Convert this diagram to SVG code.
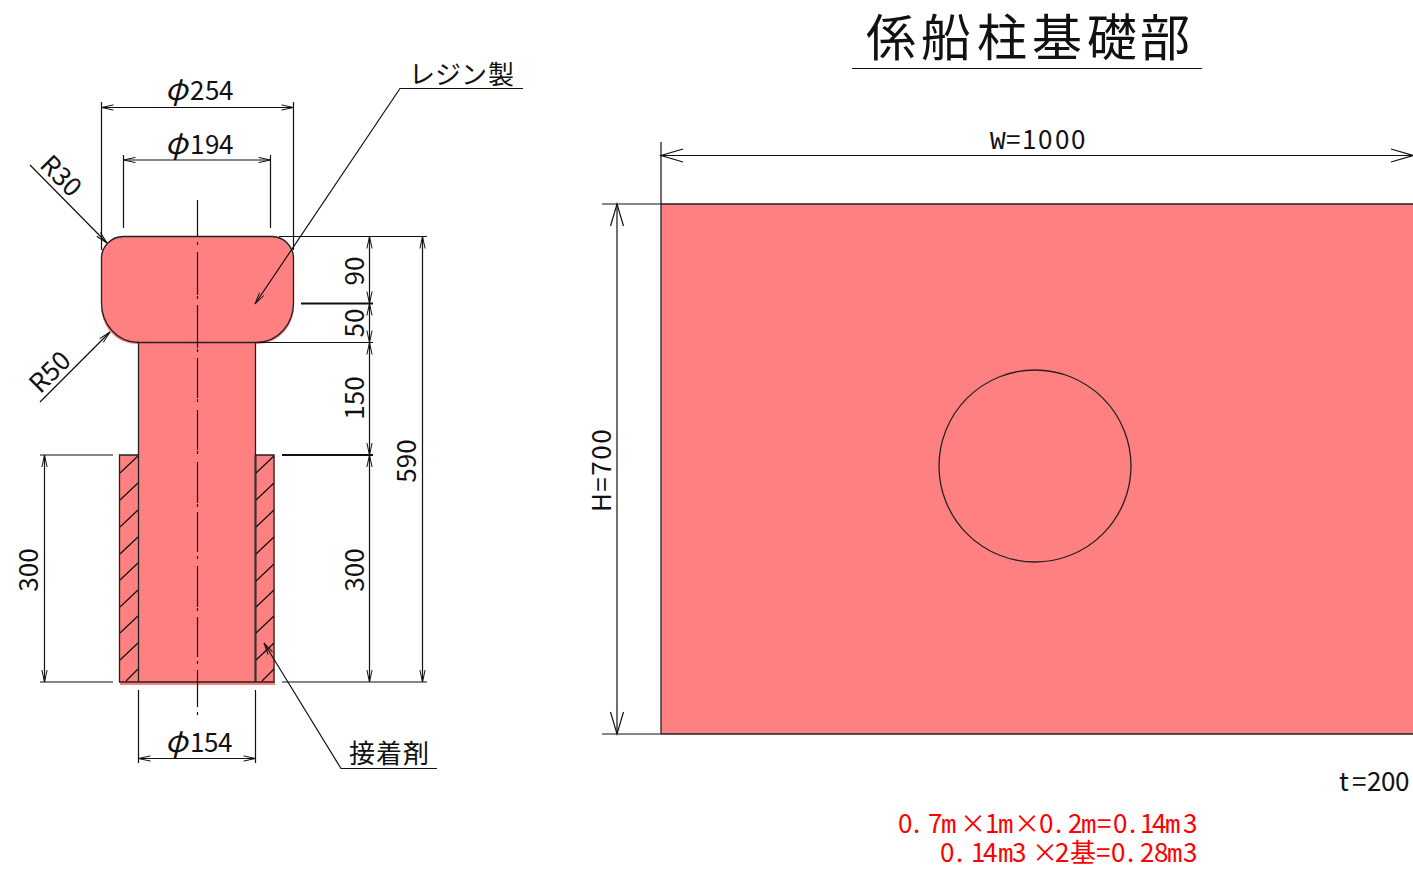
<svg xmlns="http://www.w3.org/2000/svg" width="1413" height="870" viewBox="0 0 1413 870">
<style>
text{font-family:"Noto Sans CJK JP","Liberation Sans",sans-serif;font-size:26px;fill:#111}
.m{font-family:"Liberation Mono",monospace}
.p{font-size:30px;font-style:italic}
.red{fill:#f00}
.fill{fill:#ff8080;stroke:none}
.ol{fill:none;stroke:#222;stroke-width:1.3}
.l{fill:none;stroke:#111;stroke-width:1.2}
.s{marker-start:url(#a);marker-end:url(#a)}
.b{marker-start:url(#A);marker-end:url(#A)}
.e{marker-end:url(#a)}
.hatch{fill:none;stroke:#111;stroke-width:1.2}
</style>
<defs>
<marker id="a" markerUnits="userSpaceOnUse" markerWidth="16" markerHeight="10" refX="14" refY="5" orient="auto-start-reverse"><path d="M2 2.400L14 5L2 7.600" fill="none" stroke="#111" stroke-width="1"/></marker>
<marker id="A" markerUnits="userSpaceOnUse" markerWidth="26" markerHeight="18" refX="23" refY="9" orient="auto-start-reverse"><path d="M1 2.500L23 9L1 15.500" fill="none" stroke="#111" stroke-width="1.200"/></marker>
</defs>
<g id="post">
<path class="fill" d="M123 236H272A22 22 0 0 1 294 258V305C294 325 280 344 256 344H138C114 344 101 325 101 305V258A22 22 0 0 1 123 236Z"/>
<rect class="fill" x="138.500" y="343" width="117" height="340"/>
<rect class="fill" x="119.500" y="455" width="155" height="227"/>
<rect class="fill" x="120" y="682" width="155" height="3"/>
<path class="ol" d="M101.500 303V258A22 22 0 0 1 123.500 236.500H272A22 22 0 0 1 293.500 258V303C293.500 323 279 342.500 256 342.500H139C116 342.500 101.500 323 101.500 303Z"/>
<path class="ol" d="M138.500 343V682M255.500 343V682"/>
<path d="M255.500 455V682" stroke="#333" stroke-width="2" fill="none"/>
<path class="ol" d="M138.500 455H119.500V682H274V455H255.500M119.500 682H274"/>
<path class="hatch" d="M120 473L138 456M120 500L138 483M120 527L138 510M120 554L138 537M120 580L138 563M120 607L138 590M120 633L138 616M120 660L138 643M126 681L138 669"/>
<path class="hatch" d="M256 473L274 456M256 500L274 483M256 527L274 510M256 554L274 537M256 581L274 564M256 607L274 590M256 633L274 616M256 660L274 643M262 681L274 669"/>
<path class="l" d="M197.500 200V237M197.500 242V245M197.500 252V295M197.500 296V299M197.500 305V348M197.500 349V352M197.500 358V398M197.500 399V402M197.500 410V450M197.500 451V454M197.500 462V503M197.500 504V507M197.500 512V552M197.500 556V559M197.500 566V607M197.500 608V611M197.500 617V657M197.500 661V664M197.500 670V707M197.500 712V715"/>
</g>
<g id="plate">
<rect class="fill" x="661" y="204" width="752" height="530"/>
<path class="ol" d="M661 204H1413M661 204V734M661 734H1413"/>
<circle class="ol" cx="1035" cy="466" r="96"/>
</g>
<g id="connectors">
<path class="l" d="M101.500 102V250M293.500 102V250M123.500 155V228M270.500 155V228M138.500 690V763M255.500 690V763"/>
<path class="l s" d="M101.500 107.500H293.500"/>
<path class="l s" d="M123.500 160H270.500"/>
<path class="l s" d="M138.500 758.500H255.500"/>
<path class="l e" d="M30 165L107 243"/>
<path class="l e" d="M40 402L110 332"/>
<path class="l e" d="M523 88.500H400L255 304"/>
<path class="l e" d="M437 768.500H341L264 643"/>
<path class="l" d="M279 236.500H427M301 303.500H373M258 342.500H373M282 455H373M282 682H427M40 455H113M40 682H113"/>
<path d="M301 303.500H373M282 455H373" stroke="#111" stroke-width="1.800" fill="none"/>
<path class="l s" d="M369.500 236.500V303.500"/>
<path class="l s" d="M369.500 303.500V342.500"/>
<path class="l s" d="M369.500 342.500V455"/>
<path class="l s" d="M369.500 455V682"/>
<path class="l s" d="M422.500 236.500V682"/>
<path class="l s" d="M44.500 455V682"/>
<path class="l" d="M661 142V204M602 204H661M602 734H661"/>
<path class="l b" d="M661 155.500H1413"/>
<path class="l b" d="M617 204V734"/>
<path d="M852 68.500H1202" stroke="#111" stroke-width="1.200" fill="none"/>
</g>
<g id="labels">
<text x="866 921 977 1032 1087 1140" y="56" style="font-size:50px">係船柱基礎部</text>
<text x="165 190 205 219" y="100"><tspan class="p">φ</tspan>254</text>
<text x="165 190 205 219" y="154"><tspan class="p">φ</tspan>194</text>
<text x="165 190 204 218" y="752"><tspan class="p">φ</tspan>154</text>
<text x="409 435 461 488" y="84">レジン製</text>
<text x="349 376 403" y="763">接着剤</text>
<text transform="translate(61 176) rotate(45)" text-anchor="middle" y="9">R30</text>
<text transform="translate(50 372) rotate(-45)" text-anchor="middle" y="9">R50</text>
<text transform="translate(364 271) rotate(-90)" text-anchor="middle">90</text>
<text transform="translate(364 323) rotate(-90)" text-anchor="middle">50</text>
<text transform="translate(364 398) rotate(-90)" text-anchor="middle">150</text>
<text transform="translate(364 570) rotate(-90)" text-anchor="middle">300</text>
<text transform="translate(416 461) rotate(-90)" text-anchor="middle">590</text>
<text transform="translate(38 570) rotate(-90)" text-anchor="middle">300</text>
<text transform="translate(611 470) rotate(-90)" text-anchor="middle" style="letter-spacing:1.500px">H=700</text>
<text x="990 1006 1022 1038 1055 1071" y="149"><tspan class="m">W</tspan>=1000</text>
<text x="1339 1352 1367 1381 1395" y="791">t=200</text>
<text class="red" x="898 913 928 941 960 985 998 1014 1039 1055 1068 1081 1097 1113 1129 1140 1152 1165 1183" y="833">0.7<tspan class="m">m</tspan>×1<tspan class="m">m</tspan>×0.2<tspan class="m">m</tspan>=0.14<tspan class="m">m</tspan>3</text>
<text class="red" x="940 956 971 983 998 1012 1032 1055 1070 1096 1111 1127 1140 1154 1167 1183" y="862">0.14<tspan class="m">m</tspan>3×2基=0.28<tspan class="m">m</tspan>3</text>
</g>
</svg>
